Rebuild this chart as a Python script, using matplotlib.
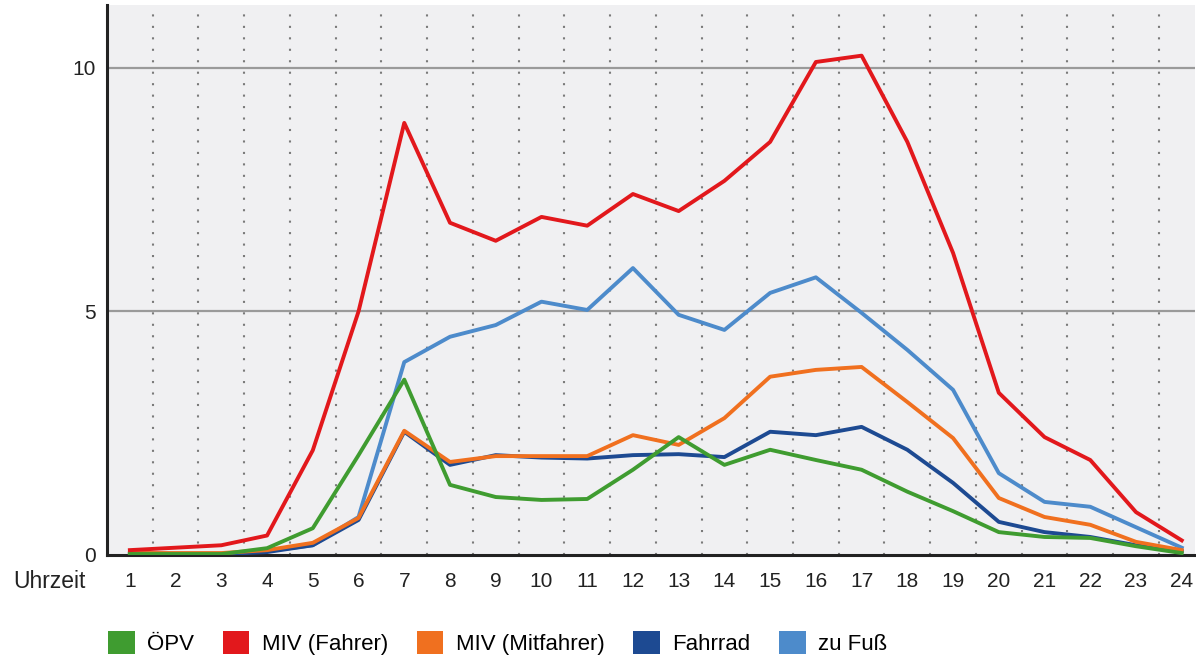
import matplotlib
matplotlib.use('Agg')
import matplotlib.pyplot as plt
from matplotlib.patches import Patch

plt.rcParams['font.family'] = ['Liberation Sans', 'DejaVu Sans']

hours = list(range(1, 25))

opv = [0.02, 0.02, 0.02, 0.14, 0.55, 2.05, 3.6, 1.44, 1.19, 1.13, 1.15, 1.75,
       2.42, 1.85, 2.16, 1.95, 1.75, 1.3, 0.9, 0.47, 0.37, 0.35, 0.18, 0.04]
miv_fahrer = [0.1, 0.15, 0.2, 0.4, 2.15, 5.0, 8.87, 6.82, 6.45, 6.94, 6.76, 7.41,
              7.06, 7.68, 8.48, 10.12, 10.25, 8.48, 6.2, 3.33, 2.42, 1.95, 0.88, 0.3]
miv_mitfahrer = [0.04, 0.04, 0.04, 0.1, 0.25, 0.76, 2.55, 1.91, 2.03, 2.03, 2.03, 2.46,
                 2.26, 2.81, 3.66, 3.8, 3.86, 3.14, 2.4, 1.17, 0.78, 0.62, 0.27, 0.1]
fahrrad = [0.02, 0.02, 0.02, 0.06, 0.2, 0.72, 2.53, 1.85, 2.05, 2.0, 1.98, 2.05,
           2.07, 2.01, 2.53, 2.46, 2.63, 2.16, 1.48, 0.68, 0.47, 0.37, 0.2, 0.08]
zu_fuss = [0.05, 0.03, 0.03, 0.08, 0.2, 0.78, 3.96, 4.48, 4.72, 5.2, 5.03, 5.89,
           4.93, 4.62, 5.38, 5.7, 4.97, 4.21, 3.39, 1.68, 1.09, 0.99, 0.57, 0.15]

labels = ['ÖPV', 'MIV (Fahrer)', 'MIV (Mitfahrer)', 'Fahrrad', 'zu Fuß']
colors = ['#3f9c30', '#e2181c', '#f0701f', '#1d4a92', '#4d8bcb']

fig = plt.figure(figsize=(11.96, 6.61), dpi=100)
ax = fig.add_axes([107/1196, 1 - 555/661, (1195 - 107)/1196, (555 - 5)/661])
ax.set_facecolor('#f0f0f2')

# grid
for h in range(1, 25):
    ax.axvline(h + 0.5, color='#7a7a7a', lw=1.5, dashes=(1.0, 4.5), zorder=1)
for yv in [5, 10]:
    ax.axhline(yv, color='#9a9a9a', lw=1.6, zorder=1)

series = [zu_fuss, fahrrad, miv_mitfahrer, opv, miv_fahrer]
order = [4, 3, 2, 0, 1]
for s, i in zip(series, order):
    ax.plot(hours, s, color=colors[i], lw=2.8, zorder=3,
            solid_joinstyle='round')

ax.set_xlim(0.5, 24.29)
ax.set_ylim(0, 11.29)
ax.set_xticks(hours)
ax.set_xticklabels([str(h) for h in hours], fontsize=15, color='#222222')
ax.set_yticks([0, 5, 10])
ax.set_yticklabels(['0', '5', '10'], fontsize=15, color='#222222')
ax.tick_params(axis='x', length=0, pad=12)
ax.tick_params(axis='y', length=0, pad=8)

for side in ['top', 'right']:
    ax.spines[side].set_visible(False)
ax.spines['left'].set_linewidth(2.2)
ax.spines['bottom'].set_linewidth(2.2)
ax.spines['left'].set_color('#222222')
ax.spines['bottom'].set_color('#222222')

fig.text(86/1196, 1 - 581/661, 'Uhrzeit', ha='right', va='center',
         fontsize=16.5, color='#222222')

handles = [Patch(facecolor=c, edgecolor='none') for c in colors]
fig.legend(handles, labels, loc='center left', bbox_to_anchor=(108/1196, 1 - 643/661),
           ncol=5, frameon=False, fontsize=16, handlelength=1.2, handleheight=1.2,
           handletextpad=0.55, columnspacing=1.3, borderaxespad=0, borderpad=0)

fig.savefig('out.png', dpi=100, facecolor='white')
